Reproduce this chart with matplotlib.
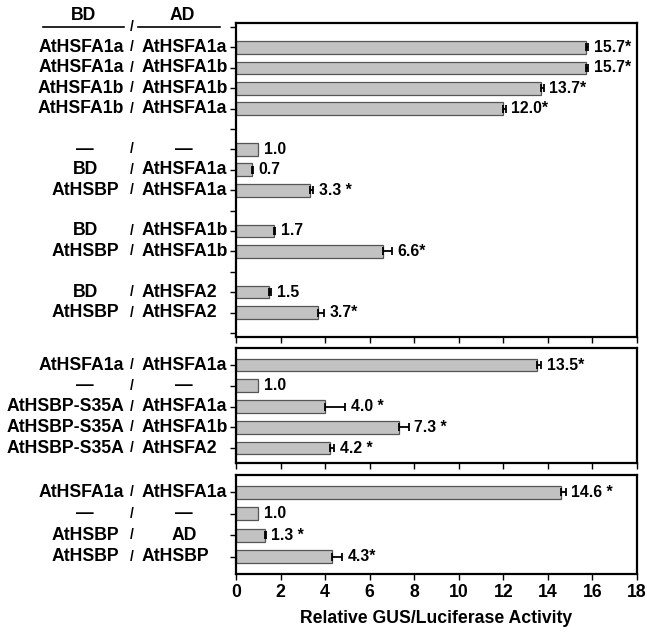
import matplotlib
matplotlib.use("Agg")
import matplotlib.pyplot as plt
from matplotlib.lines import Line2D
from matplotlib.transforms import blended_transform_factory

plt.rcParams['font.family'] = ['Liberation Sans', 'DejaVu Sans']
plt.rcParams['font.weight'] = 'bold'

# panel 1 (None = empty row)
p1_bd = [None, 'AtHSFA1a', 'AtHSFA1a', 'AtHSFA1b', 'AtHSFA1b', None, '—', 'BD', 'AtHSBP',
         None, 'BD', 'AtHSBP', None, 'BD', 'AtHSBP', None]
p1_ad = [None, 'AtHSFA1a', 'AtHSFA1b', 'AtHSFA1b', 'AtHSFA1a', None, '—', 'AtHSFA1a', 'AtHSFA1a',
         None, 'AtHSFA1b', 'AtHSFA1b', None, 'AtHSFA2', 'AtHSFA2', None]
p1_val = [None, 15.7, 15.7, 13.7, 12.0, None, 1.0, 0.7, 3.3, None, 1.7, 6.6, None, 1.5, 3.7, None]
p1_err = [None, 0.1, 0.1, 0.12, 0.1, None, 0.0, 0.05, 0.17, None, 0.07, 0.4, None, 0.07, 0.27, None]
p1_txt = [None, '15.7*', '15.7*', '13.7*', '12.0*', None, '1.0', '0.7', '3.3 *', None, '1.7', '6.6*',
          None, '1.5', '3.7*', None]

# panel 2
p2_bd = ['AtHSFA1a', '—', 'AtHSBP-S35A', 'AtHSBP-S35A', 'AtHSBP-S35A']
p2_ad = ['AtHSFA1a', '—', 'AtHSFA1a', 'AtHSFA1b', 'AtHSFA2']
p2_val = [13.5, 1.0, 4.0, 7.3, 4.2]
p2_err = [0.2, 0.0, 0.9, 0.45, 0.22]
p2_txt = ['13.5*', '1.0', '4.0 *', '7.3 *', '4.2 *']

# panel 3
p3_bd = ['AtHSFA1a', '—', 'AtHSBP', 'AtHSBP']
p3_ad = ['AtHSFA1a', '—', 'AD', 'AtHSBP']
p3_val = [14.6, 1.0, 1.3, 4.3]
p3_err = [0.2, 0.0, 0.04, 0.45]
p3_txt = ['14.6 *', '1.0', '1.3 *', '4.3*']

xticks = [0, 2, 4, 6, 8, 10, 12, 14, 16, 18]

W, H = 647, 632
fig = plt.figure(figsize=(W / 100, H / 100), dpi=100)
FS = 12.7

def fx(px):
    return px / W

def fy(py):
    return 1 - py / H

bd_centered = ('—', 'BD', 'AtHSBP')
ad_centered = ('—', 'AD')

def draw_panel(top, bottom, bd, ad, vals, errs, txts, ylim, last=False):
    ax = fig.add_axes([fx(236), fy(bottom), fx(637) - fx(236), fy(top) - fy(bottom)])
    rows = list(range(len(vals)))
    for r, v, e, t in zip(rows, vals, errs, txts):
        if v is None:
            continue
        ax.barh(r, v, height=0.62, color='#c2c2c2', edgecolor='#555555', linewidth=0.9, zorder=2)
        if e > 0:
            ax.errorbar(v, r, xerr=[[0], [e]], fmt='none', ecolor='black', elinewidth=1.3,
                        capsize=3.2, capthick=1.3, zorder=3)
        ax.annotate(t, (v + e, r), xytext=(4, 0), textcoords='offset points',
                    va='center', ha='left', fontsize=11.3, fontweight='bold')
    ax.set_xlim(0, 18)
    ax.set_ylim(*ylim)
    ax.set_yticks(rows)
    ax.set_yticklabels([])
    ax.set_xticks(xticks)
    ax.tick_params(direction='out', length=4, width=1)
    if last:
        ax.set_xticklabels([str(x) for x in xticks], fontsize=FS, fontweight='bold')
        ax.set_xlabel('Relative GUS/Luciferase Activity', fontsize=FS, fontweight='bold', labelpad=6)
    else:
        ax.set_xticklabels([])
    for s in ax.spines.values():
        s.set_linewidth(1.6)

    tr = blended_transform_factory(fig.transFigure, ax.transData)
    for r, b, a in zip(rows, bd, ad):
        if b is None:
            continue
        if b in bd_centered:
            fig.text(fx(85), r, b, transform=tr, ha='center', va='center', fontsize=FS)
        else:
            fig.text(fx(124), r, b, transform=tr, ha='right', va='center', fontsize=FS)
        fig.text(fx(132), r, '/', transform=tr, ha='center', va='center', fontsize=10)
        if a in ad_centered:
            fig.text(fx(184), r, a, transform=tr, ha='center', va='center', fontsize=FS)
        else:
            fig.text(fx(142), r, a, transform=tr, ha='left', va='center', fontsize=FS)
    return ax

draw_panel(23, 337, p1_bd, p1_ad, p1_val, p1_err, p1_txt, (15.2, -0.2))
draw_panel(348, 463, p2_bd, p2_ad, p2_val, p2_err, p2_txt, (4.72, -0.82))
draw_panel(475, 574, p3_bd, p3_ad, p3_val, p3_err, p3_txt, (3.8, -0.8), last=True)

# header
fig.text(fx(83), fy(16), 'BD', ha='center', va='center', fontsize=FS)
fig.text(fx(182), fy(16), 'AD', ha='center', va='center', fontsize=FS)
fig.text(fx(132), fy(27), '/', ha='center', va='center', fontsize=10)
fig.add_artist(Line2D([fx(43), fx(124)], [fy(27), fy(27)], color='black', lw=1.2))
fig.add_artist(Line2D([fx(138), fx(220)], [fy(27), fy(27)], color='black', lw=1.2))

fig.savefig('out.png', dpi=100)
